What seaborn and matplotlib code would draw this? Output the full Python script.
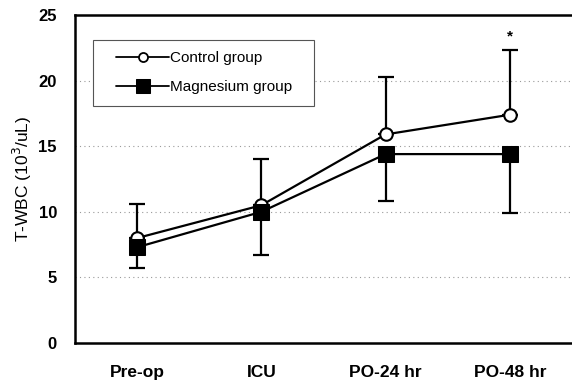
import matplotlib
matplotlib.use("Agg")
import matplotlib.pyplot as plt
from matplotlib.patches import Rectangle
import seaborn as sns
import pandas as pd
import numpy as np

categories = ["Pre-op", "ICU", "PO-24 hr", "PO-48 hr"]
control_mean = [8.0, 10.5, 15.9, 17.4]
control_upper = [10.6, 14.0, 20.3, 22.3]
magnesium_mean = [7.3, 10.0, 14.4, 14.4]
magnesium_lower = [5.7, 6.7, 10.8, 9.9]
y_ticks = [0, 5, 10, 15, 20, 25]
y_label = "T-WBC (10$^3$/uL)"
sig_marks = ["", "", "", "*"]

sns.set_theme(style="white", rc={"text.color": "black", "axes.labelcolor": "black",
                                 "xtick.color": "black", "ytick.color": "black"})
plt.rcParams["font.family"] = ["Liberation Sans", "DejaVu Sans"]

df = pd.DataFrame({
    "time": categories * 2,
    "value": control_mean + magnesium_mean,
    "group": ["Control group"] * 4 + ["Magnesium group"] * 4,
})

fig = plt.figure(figsize=(5.72, 3.85), dpi=100)
ax = fig.add_axes([0.131, 0.109, 0.869, 0.852])

pos = np.arange(len(categories))
ax.errorbar(pos, control_mean,
            yerr=[np.zeros(4), np.array(control_upper) - np.array(control_mean)],
            fmt="none", ecolor="black", elinewidth=1.6, capsize=6, capthick=1.6, zorder=2)
ax.errorbar(pos, magnesium_mean,
            yerr=[np.array(magnesium_mean) - np.array(magnesium_lower), np.zeros(4)],
            fmt="none", ecolor="black", elinewidth=1.6, capsize=6, capthick=1.6, zorder=2)

sns.lineplot(data=df, x="time", y="value", hue="group", style="group",
             markers={"Control group": "o", "Magnesium group": "s"},
             dashes=False, palette={"Control group": "black", "Magnesium group": "black"},
             linewidth=1.6, markersize=10, ax=ax, zorder=3, sort=False)

for line in ax.get_lines():
    if line.get_marker() == "o":
        line.set_markerfacecolor("white")
        line.set_markeredgecolor("black")
        line.set_markeredgewidth(1.5)
        line.set_markersize(9)
    elif line.get_marker() == "s":
        line.set_markerfacecolor("black")
        line.set_markeredgecolor("black")
        line.set_markersize(11.5)

for i, s in enumerate(sig_marks):
    if s:
        ax.text(i, control_upper[i] + 1.1, s, ha="center", va="center",
                fontsize=11, fontweight="bold", color="black")

ax.set_xlim(-0.5, 3.5)
ax.set_ylim(0, 25)
ax.set_yticks(y_ticks)
ax.set_yticklabels([str(t) for t in y_ticks], fontsize=12, fontweight="bold", color="black")
ax.set_xticks(pos)
ax.set_xticklabels(categories, fontsize=12.5, fontweight="bold", color="black")
ax.tick_params(axis="x", which="major", length=0, pad=16)
ax.tick_params(axis="y", which="major", length=0, pad=13)
ax.set_xticks([0.5, 1.5, 2.5], minor=True)
ax.tick_params(axis="x", which="minor", direction="in", length=4, width=0.8, color="#555555")
ax.set_xlabel("")
ax.set_ylabel(y_label, fontsize=12.5, labelpad=3, color="black")

for y in [5, 10, 15, 20]:
    ax.axhline(y, color="#9a9a9a", linestyle=(0, (1, 3)), linewidth=0.8, zorder=0)

for side in ["left", "bottom", "top"]:
    ax.spines[side].set_color("black")
    ax.spines[side].set_linewidth(1.8)
ax.spines["right"].set_visible(False)

handles, labels = ax.get_legend_handles_labels()
for h in handles:
    h.set_color("black")
    if h.get_marker() == "o":
        h.set_markerfacecolor("white")
        h.set_markeredgewidth(1.3)
        h.set_markersize(6.5)
    elif h.get_marker() == "s":
        h.set_markerfacecolor("black")
        h.set_markersize(10.5)
    h.set_linewidth(1.3)
leg = ax.legend(handles, labels, loc="upper left", bbox_to_anchor=(0.0825, 0.890),
                frameon=False, fontsize=11, handlelength=3.5,
                handletextpad=0.05, borderpad=0, labelspacing=1.0, borderaxespad=0)
for t in leg.get_texts():
    t.set_color("black")
ax.add_patch(Rectangle((0.036, 0.723), 0.445, 0.201, transform=ax.transAxes,
                       fill=True, facecolor="white", edgecolor="#555555",
                       linewidth=0.8, zorder=4))
leg.set_zorder(5)

fig.savefig("out.png", dpi=100)
